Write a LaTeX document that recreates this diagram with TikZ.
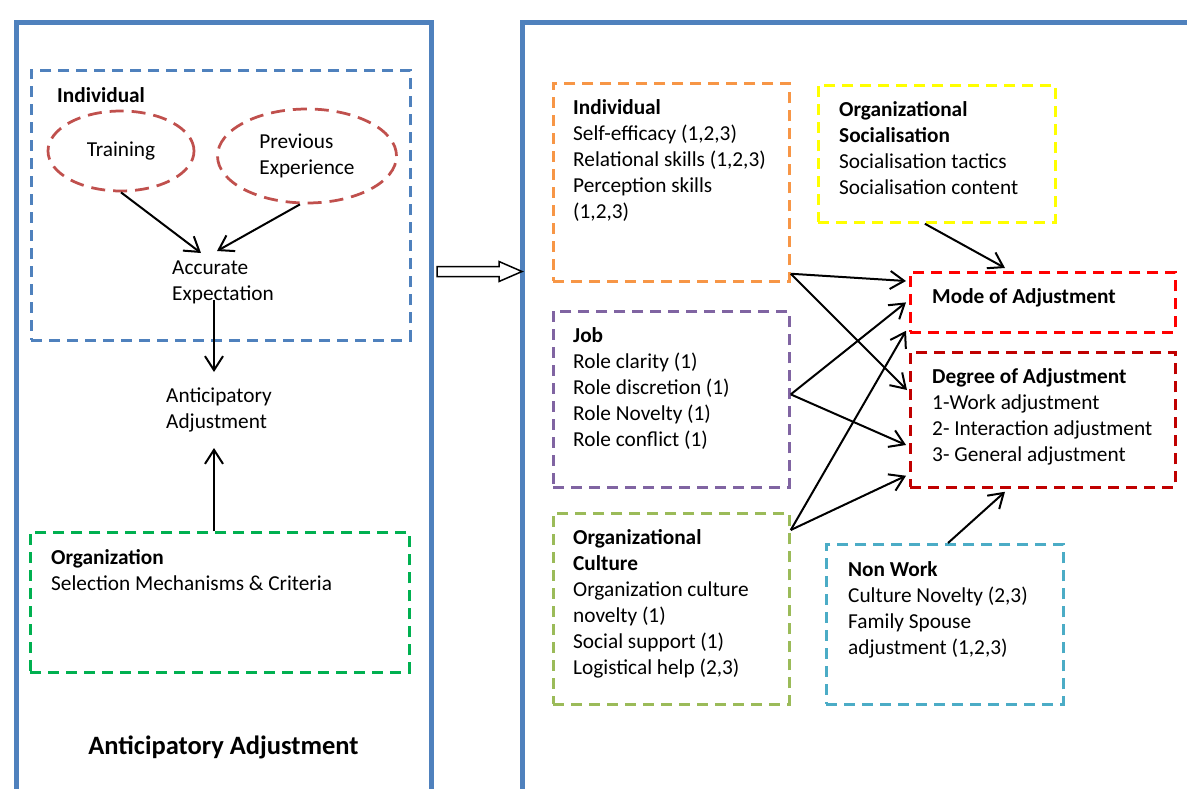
\documentclass[tikz,border=0pt]{standalone}
\usepackage{fontspec}
\setmainfont{Carlito}
\usetikzlibrary{arrows.meta, shapes.geometric, calc}

\definecolor{panelblue}{HTML}{4F81BD}
\definecolor{ovalred}{HTML}{C0504D}
\definecolor{orggreen}{HTML}{00B050}
\definecolor{indorange}{HTML}{F79646}
\definecolor{socyellow}{HTML}{FFFF00}
\definecolor{jobpurple}{HTML}{8064A2}
\definecolor{cultolive}{HTML}{9BBB59}
\definecolor{nonteal}{HTML}{4BACC6}
\definecolor{modered}{HTML}{FF0000}
\definecolor{degreered}{HTML}{C00000}

\begin{document}
\begin{tikzpicture}
        [
            x=1pt, y=-1pt,
            every node/.style={
                inner sep=0pt,
                font=\fontsize{21.3}{26}\selectfont
            },
            panel/.style={
                draw=panelblue,
                line width=5pt,
                anchor=north west
            },
            dashbox/.style={
                draw=#1,
                dash pattern=on 11pt off 7pt,
                line width=2.75pt,
                anchor=north west
            },
            oval/.style={
                ellipse,
                draw=ovalred,
                dash pattern=on 14pt off 8pt,
                line width=2.75pt,
                align=left
            },
            txt/.style={
                anchor=north west,
                align=left
            },
            link/.style={
                draw,
                line width=2pt,
                -{Straight Barb[length=14pt,width=18pt]}
            }
        ]
        \useasboundingbox (0,0) rectangle (1187,788);
        \clip (0,0) rectangle (1187,788);

        \node[panel, minimum width=415, minimum height=820] (leftpanel) at (14,19.5) {};
        \node[panel, minimum width=800, minimum height=820] (rightpanel) at (519.5,19.5) {};
        \draw[line width=1.5pt, fill=white] ($(leftpanel.north east)+(3,247)$)
            -- ++(62,0) -- ++(0,-5) -- ++(23,10) -- ++(-23,10) -- ++(0,-5) -- ++(-62,0) -- cycle;

        % left panel
        \node[dashbox=panelblue, minimum width=379, minimum height=270] (indbox) at (30,69) {};
        \node[txt] (indtitle) at (57,87) {\textbf{Individual}};
        \node[oval, minimum width=146, minimum height=80] (training) at (121,151) {Training};
        \node[oval, minimum width=179, minimum height=94] (prevexp) at (307,156) {Previous\\Experience};
        \node[txt] (accexp) at (172,261) {Accurate\\Expectation};
        \node[txt] (antic) at (166,388) {Anticipatory\\Adjustment};
        \node[dashbox=orggreen, minimum width=379, minimum height=140] (orgbox) at (29,531) {};
        \node[txt] (orgtext) at (51,549) {\textbf{Organization}\\Selection Mechanisms \& Criteria};
        \node[anchor=north, font=\fontsize{26.5}{32}\selectfont\bfseries] (lefttitle) at (223.5,736) {Anticipatory Adjustment};

        \draw[link] (training.south) -- ($(accexp.north west)+(29,-8)$);
        \draw[link] ($(prevexp.south)+(-7,0)$) -- ($(accexp.north west)+(45,-10)$);
        \draw[link] ($(accexp.north west)+(42,39)$) -- ($(antic.north west)+(48,-16)$);
        \draw[link] ($(orgbox.north west)+(185,0)$) -- ($(antic.north west)+(48,60)$);

        % right panel
        \node[dashbox=indorange, minimum width=236, minimum height=198] (indRbox) at (552,82) {};
        \node[txt] (indRtext) at (573,99) {\textbf{Individual}\\Self-efficacy (1,2,3)\\Relational skills (1,2,3)\\Perception skills\\(1,2,3)};
        \node[dashbox=socyellow, minimum width=237, minimum height=137] (socbox) at (817,84) {};
        \node[txt] (soctext) at (839,101) {\textbf{Organizational}\\\textbf{Socialisation}\\Socialisation tactics\\Socialisation content};
        \node[dashbox=jobpurple, minimum width=236, minimum height=176] (jobbox) at (552,310) {};
        \node[txt] (jobtext) at (573,327) {\textbf{Job}\\Role clarity (1)\\Role discretion (1)\\Role Novelty (1)\\Role conflict (1)};
        \node[dashbox=cultolive, minimum width=236, minimum height=191] (cultbox) at (552,512) {};
        \node[txt] (culttext) at (573,529) {\textbf{Organizational}\\\textbf{Culture}\\Organization culture\\novelty (1)\\Social support (1)\\Logistical help (2,3)};
        \node[dashbox=nonteal, minimum width=237, minimum height=160] (nonbox) at (825,543) {};
        \node[txt] (nontext) at (848,561) {\textbf{Non Work}\\Culture Novelty (2,3)\\Family Spouse\\adjustment (1,2,3)};
        \node[dashbox=modered, minimum width=265, minimum height=60] (modebox) at (909,271) {};
        \node[txt] (modetext) at (932,288) {\textbf{Mode of Adjustment}};
        \node[dashbox=degreered, minimum width=265, minimum height=135] (degbox) at (909,351) {};
        \node[txt] (degtext) at (932,368) {\textbf{Degree of Adjustment}\\1-Work adjustment\\2- Interaction adjustment\\3- General adjustment};

        \draw[link] ($(socbox.south)+(-12,0)$) -- ($(modebox.north west)+(96,-3)$);
        \draw[link] ($(indRbox.south east)+(0,-9)$) -- ($(modebox.north west)+(-3,10)$);
        \draw[link] ($(indRbox.south east)+(0,-9)$) -- ($(degbox.north west)+(-2,39)$);
        \draw[link] ($(jobbox.east)+(0,-5)$) -- ($(modebox.west)+(-3,0)$);
        \draw[link] ($(jobbox.east)+(0,-5)$) -- ($(degbox.north west)+(-3,94)$);
        \draw[link] ($(cultbox.north east)+(0,18)$) -- ($(modebox.south west)+(-3,-3)$);
        \draw[link] ($(cultbox.north east)+(0,18)$) -- ($(degbox.south west)+(-3,-13)$);
        \draw[link] ($(nonbox.north west)+(123,0)$) -- ($(degbox.south west)+(96,3)$);
    \end{tikzpicture}
\end{document}
